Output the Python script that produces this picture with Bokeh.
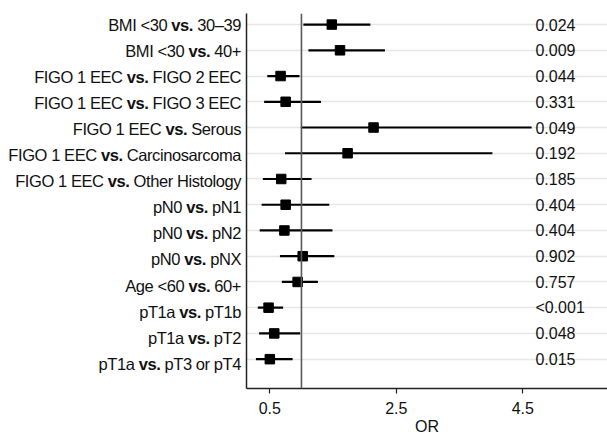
from bokeh.plotting import figure
from bokeh.models import Range1d, FixedTicker, ColumnDataSource, Span, Div
from bokeh.layouts import row
from bokeh.core.properties import value
from bokeh.embed import file_html
from bokeh.resources import INLINE

comparisons = [
    "BMI <30 vs. 30–39",
    "BMI <30 vs. 40+",
    "FIGO 1 EEC vs. FIGO 2 EEC",
    "FIGO 1 EEC vs. FIGO 3 EEC",
    "FIGO 1 EEC vs. Serous",
    "FIGO 1 EEC vs. Carcinosarcoma",
    "FIGO 1 EEC vs. Other Histology",
    "pN0 vs. pN1",
    "pN0 vs. pN2",
    "pN0 vs. pNX",
    "Age <60 vs. 60+",
    "pT1a vs. pT1b",
    "pT1a vs. pT2",
    "pT1a vs. pT3 or pT4",
]
or_est = [1.48, 1.61, 0.67, 0.75, 2.14, 1.73, 0.68, 0.75, 0.73, 1.02, 0.94, 0.48, 0.57, 0.50]
ci_low = [1.03, 1.11, 0.46, 0.41, 0.99, 0.74, 0.39, 0.37, 0.34, 0.66, 0.69, 0.31, 0.33, 0.28]
ci_high = [2.09, 2.32, 0.97, 1.31, 4.64, 4.02, 1.16, 1.44, 1.49, 1.52, 1.26, 0.71, 0.98, 0.86]
p_values = ["0.024", "0.009", "0.044", "0.331", "0.049", "0.192", "0.185",
            "0.404", "0.404", "0.902", "0.757", "<0.001", "0.048", "0.015"]
ref_value = 1.0
x_ticks = [0.5, 2.5, 4.5]
x_label = "OR"

rows = list(range(1, len(comparisons) + 1))

FONT = "Liberation Sans"
FSIZE = 16
LSIZE = 16.5

# layout geometry
H = 437
DIV_W = 244
FIG_W = 607 - DIV_W
B_TOP = 13
B_BOTTOM = 44
B_LEFT = 2
Y_TOP = 0.57
Y_BOTTOM = 15.14
P_X = 4.70

src = ColumnDataSource(dict(y=rows, est=or_est, lo=ci_low, hi=ci_high, p=p_values,
                            px=[P_X] * len(rows)))

p = figure(width=FIG_W, height=H, output_backend="svg", toolbar_location=None,
           x_range=Range1d(0.131, 5.84), y_range=Range1d(Y_BOTTOM, Y_TOP),
           min_border_top=B_TOP, min_border_bottom=B_BOTTOM,
           min_border_left=B_LEFT, min_border_right=0)
p.outline_line_color = None
p.background_fill_color = "white"
p.border_fill_color = "white"

p.xgrid.visible = False
p.ygrid.ticker = FixedTicker(ticks=rows)
p.ygrid.grid_line_color = "#e6e6e6"
p.ygrid.grid_line_width = 1.6

p.yaxis.ticker = FixedTicker(ticks=[])
p.yaxis.major_label_text_font_size = "0px"
p.yaxis.major_tick_line_color = None
p.yaxis.minor_tick_line_color = None
p.yaxis.major_tick_out = 0
p.yaxis.major_label_standoff = 0
p.yaxis.axis_line_color = "#222222"
p.yaxis.axis_line_width = 1.5

p.xaxis.ticker = FixedTicker(ticks=x_ticks)
p.xaxis.axis_line_color = "#222222"
p.xaxis.axis_line_width = 1.5
p.xaxis.major_tick_line_color = "#222222"
p.xaxis.major_tick_line_width = 1.2
p.xaxis.major_tick_in = 0
p.xaxis.major_tick_out = 5
p.xaxis.minor_tick_line_color = None
p.xaxis.major_label_standoff = 8
p.xaxis.major_label_text_font = FONT
p.xaxis.major_label_text_font_size = f"{FSIZE}px"
p.xaxis.major_label_text_color = "#111111"
p.xaxis.axis_label = x_label
p.xaxis.axis_label_text_font = FONT
p.xaxis.axis_label_text_font_size = f"{FSIZE}px"
p.xaxis.axis_label_text_font_style = "normal"
p.xaxis.axis_label_text_color = "#111111"
p.xaxis.axis_label_standoff = 1

p.add_layout(Span(location=ref_value, dimension="height", line_color="#5a5a5a", line_width=1.6))

p.segment(x0="lo", x1="hi", y0="y", y1="y", source=src, line_color="black", line_width=2.2)
p.scatter(x="est", y="y", source=src, marker="square", size=9.5, fill_color="black",
          line_color="black")
p.text(x="px", y="y", text="p", source=src, text_font=value(FONT),
       text_font_size=f"{FSIZE}px", text_baseline="middle", text_align="left",
       text_color="#111111")

# left-hand labels with bold "vs."
frame_h = H - B_TOP - B_BOTTOM
items = []
for r, lab in zip(rows, comparisons):
    pre, post = lab.split(" vs. ")
    cy = B_TOP + (r - Y_TOP) / (Y_BOTTOM - Y_TOP) * frame_h
    lh = 20
    items.append(
        f'<div style="position:absolute;right:3px;top:{cy - lh / 2 + 0.5:.1f}px;'
        f'line-height:{lh}px;height:{lh}px;white-space:nowrap;">'
        f'{pre.replace("<", "&lt;")} <b>vs.</b> {post}</div>'
    )
html = (f'<div style="position:relative;width:{DIV_W}px;height:{H}px;'
        f'font-family:\'{FONT}\';font-size:{LSIZE}px;letter-spacing:-0.42px;color:#111;">'
        + "".join(items) + "</div>")
labels_div = Div(text=html, width=DIV_W, height=H, margin=0)

layout = row(labels_div, p, spacing=0)
open("out.html", "w").write(file_html(layout, INLINE))
